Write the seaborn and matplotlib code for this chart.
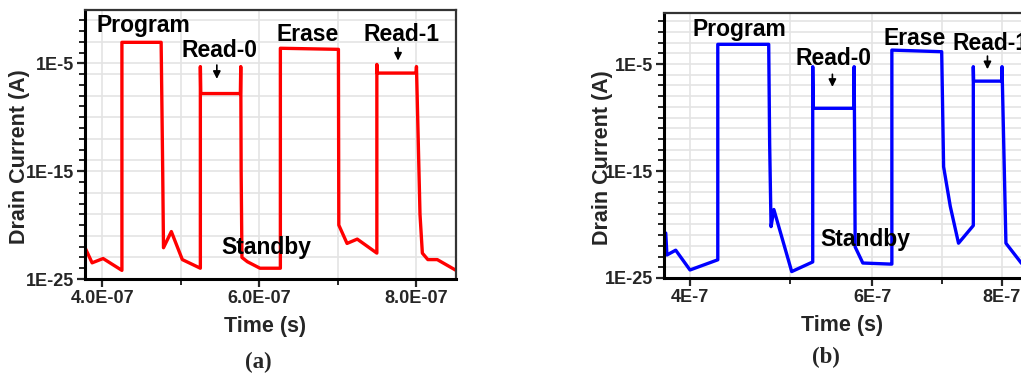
import numpy as np
import pandas as pd
import matplotlib
matplotlib.use("Agg")
import matplotlib.pyplot as plt
import matplotlib.ticker as mticker
import seaborn as sns

# --- datos (tiempo en s, corriente como exponente log10(A)) ---
t_a = [3.78e-7, 3.87e-7, 4.01e-7, 4.25e-7, 4.25e-7, 4.75e-7, 4.77e-7, 4.78e-7, 4.88e-7,
       5.02e-7, 5.25e-7, 5.25e-7, 5.255e-7, 5.76e-7, 5.765e-7, 5.77e-7, 5.78e-7, 5.85e-7,
       6.01e-7, 6.27e-7, 6.27e-7, 7.01e-7, 7.015e-7, 7.12e-7, 7.25e-7, 7.50e-7, 7.50e-7,
       7.505e-7, 8.0e-7, 8.005e-7, 8.05e-7, 8.08e-7, 8.15e-7, 8.27e-7, 8.51e-7]
logI_a = [-22.1, -23.5, -23.1, -24.2, -3.05, -3.05, -15.0, -22.1, -20.6,
          -23.2, -24.0, -5.3, -7.8, -7.8, -5.3, -15.0, -23.0, -23.4,
          -24.0, -24.0, -3.6, -3.7, -20.0, -21.7, -21.3, -22.6, -5.1,
          -5.9, -5.9, -5.3, -19.0, -22.6, -23.2, -23.2, -24.2]

t_b = [3.79e-7, 3.80e-7, 3.875e-7, 4.0e-7, 4.255e-7, 4.255e-7, 4.765e-7, 4.775e-7, 4.79e-7,
       4.82e-7, 5.015e-7, 5.255e-7, 5.255e-7, 5.26e-7, 5.76e-7, 5.762e-7, 5.768e-7, 5.775e-7,
       5.874e-7, 6.242e-7, 6.266e-7, 6.266e-7, 7.0e-7, 7.03e-7, 7.135e-7, 7.267e-7, 7.51e-7,
       7.51e-7, 7.515e-7, 8.0e-7, 8.005e-7, 8.075e-7, 8.355e-7, 8.5e-7]
logI_b = [-20.8, -22.85, -22.4, -24.25, -23.3, -3.16, -3.16, -12.4, -20.2,
          -18.6, -24.4, -23.5, -5.25, -9.14, -9.14, -5.25, -12.4, -22.1,
          -23.6, -23.7, -23.7, -3.7, -3.85, -14.6, -18.3, -21.75, -20.1,
          -5.25, -6.6, -6.6, -5.25, -21.75, -23.6, -24.2]

labels_text = ["Program", "Read-0", "Erase", "Read-1", "Standby"]
# posiciones de texto (t, log10 I) para cada panel
lab_t_a = [4.52e-7, 5.49e-7, 6.62e-7, 7.82e-7, 6.09e-7]
lab_y_a = [-1.5, -3.8, -2.3, -2.3, -22.1]
lab_t_b = [4.46e-7, 5.50e-7, 6.59e-7, 7.80e-7, 5.91e-7]
lab_y_b = [-1.82, -4.47, -2.66, -3.07, -21.4]
# flechas de lectura (t, y_inicio, y_fin)
arrows_a = [(5.46e-7, -4.9, -6.7), (7.77e-7, -3.3, -5.0)]
arrows_b = [(5.49e-7, -5.7, -7.4), (7.75e-7, -4.0, -5.75)]

xticks_a = [4e-7, 6e-7, 8e-7]
xticklabels_a = ["4.0E-07", "6.0E-07", "8.0E-07"]
xticks_b = [4e-7, 6e-7, 8e-7]
xticklabels_b = ["4E-7", "6E-7", "8E-7"]
xminor = [5e-7, 7e-7]
yticks = [1e-25, 1e-15, 1e-5]
yticklabels = ["1E-25", "1E-15", "1E-5"]

sns.set_style("white")
plt.rcParams['font.family'] = ['Liberation Sans', 'DejaVu Sans']
plt.rcParams['font.weight'] = 'bold'

fig = plt.figure(figsize=(10.21, 3.74), dpi=100)
ax_a = fig.add_axes([0.0833, 0.2540, 0.3634, 0.7193])
ax_b = fig.add_axes([0.6503, 0.2567, 0.3565, 0.7086])


def draw_panel(ax, t, logI, color, xlog, xlim, ylim_top, xt, xtl, lab_t, lab_y, arrows, grid_step):
    df = pd.DataFrame({"t": t, "I": 10.0 ** np.array(logI)})
    sns.lineplot(data=df, x="t", y="I", sort=False, estimator=None, color=color,
                 linewidth=2.4, ax=ax)
    ax.set_yscale("log")
    if xlog:
        ax.set_xscale("log")
    ax.set_xlim(*xlim)
    ax.set_ylim(1e-25, ylim_top)

    ax.xaxis.set_major_locator(mticker.FixedLocator(xt))
    ax.xaxis.set_major_formatter(mticker.FixedFormatter(xtl))
    ax.xaxis.set_minor_locator(mticker.FixedLocator(xminor))
    ax.xaxis.set_minor_formatter(mticker.NullFormatter())
    ax.yaxis.set_major_locator(mticker.FixedLocator(yticks))
    ax.yaxis.set_major_formatter(mticker.FixedFormatter(yticklabels))
    exps = list(range(-25, 1))
    ax.yaxis.set_minor_locator(mticker.FixedLocator([10.0 ** k for k in exps]))
    ax.yaxis.set_minor_formatter(mticker.NullFormatter())

    ax.tick_params(axis="both", which="major", direction="out", length=6, width=1.6,
                   labelsize=13, pad=2)
    ax.tick_params(axis="both", which="minor", direction="out", length=4, width=1.4)
    ax.tick_params(left=True, bottom=True, which="both")
    ax.grid(True, which="both", color="#e4e4e4", linewidth=1.2)
    ax.set_axisbelow(True)

    # en (a) la rejilla horizontal solo cada 2 decadas
    fig.canvas.draw()
    for k, tick in zip(exps, ax.yaxis.get_minor_ticks()):
        tick.gridline.set_visible(k % grid_step == 0)

    for s in ["left", "bottom"]:
        ax.spines[s].set_linewidth(2.2)
        ax.spines[s].set_color("black")
    for s in ["top", "right"]:
        ax.spines[s].set_linewidth(1.6)
        ax.spines[s].set_color("#333333")

    ax.set_xlabel("Time (s)", fontsize=15.5, fontweight="bold")
    ax.set_ylabel("Drain Current (A)", fontsize=15.5, fontweight="bold")

    for txt, x, y in zip(labels_text, lab_t, lab_y):
        ax.text(x, 10.0 ** y, txt, ha="center", va="center", fontsize=16.5,
                fontweight="bold", color="black")
    for x, y0, y1 in arrows:
        ax.annotate("", xy=(x, 10.0 ** y1), xytext=(x, 10.0 ** y0),
                    arrowprops=dict(arrowstyle="-|>", color="black", lw=1.2,
                                    mutation_scale=11))


draw_panel(ax_a, t_a, logI_a, "#ff0000", False, (3.78e-7, 8.51e-7), 10 ** -0.05,
           xticks_a, xticklabels_a, lab_t_a, lab_y_a, arrows_a, 2)
draw_panel(ax_b, t_b, logI_b, "#0000ff", True, (3.775e-7, 8.48e-7), 10 ** -0.23,
           xticks_b, xticklabels_b, lab_t_b, lab_y_b, arrows_b, 1)

ax_a.yaxis.set_label_coords(-0.148, 0.4535)
ax_a.xaxis.set_label_coords(0.485, -0.1375)
ax_b.yaxis.set_label_coords(-0.140, 0.4528)
ax_b.xaxis.set_label_coords(0.489, -0.1396)

fig.text(258 / 1021, 1 - 362 / 374, "(a)", ha="center", va="center", fontsize=16.5,
         fontweight="bold", family=["Liberation Serif", "DejaVu Serif"])
fig.text(826 / 1021, 1 - 357 / 374, "(b)", ha="center", va="center", fontsize=16.5,
         fontweight="bold", family=["Liberation Serif", "DejaVu Serif"])

fig.savefig("out.png", dpi=100)
